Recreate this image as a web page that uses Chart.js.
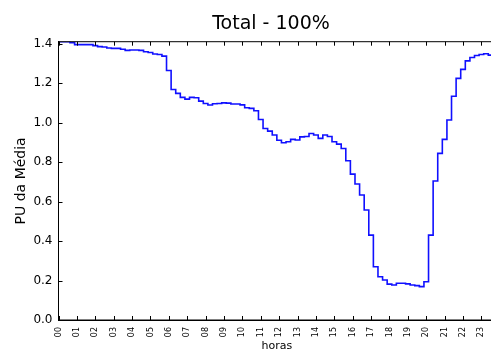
<!DOCTYPE html>
<html>
<head>
<meta charset="utf-8">
<script src="https://cdn.jsdelivr.net/npm/chart.js@4/dist/chart.umd.min.js"></script>
<style>
  html, body { margin: 0; padding: 0; background: #fff; overflow: hidden; width: 491px; height: 353px; }
  #wrap { position: relative; width: 498px; height: 353px; }
</style>
</head>
<body>
<div id="wrap"><canvas id="c" width="498" height="353"></canvas></div>
<script>
// Texts
const chartTitle = 'Total - 100%';
const xTitle = 'horas';
const yTitle = 'PU da Média';

// Hour tick labels along the x axis
const hourLabels = ['00','01','02','03','04','05','06','07','08','09','10','11',
                    '12','13','14','15','16','17','18','19','20','21','22','23'];

// Sample times: one every 15 minutes, in hours
const quarterHours = hourLabels.flatMap((h, i) => [i, i + 0.25, i + 0.5, i + 0.75]);

// Load, per unit of the mean, at each 15-minute sample
const puValues = [
  1.410, 1.410, 1.410, 1.405, 1.395, 1.395, 1.395, 1.395,   // 00h - 01h
  1.390, 1.385, 1.383, 1.378, 1.376, 1.376, 1.372, 1.366,   // 02h - 03h
  1.368, 1.368, 1.366, 1.359, 1.355, 1.348, 1.345, 1.337,   // 04h - 05h
  1.264, 1.168, 1.148, 1.128, 1.119, 1.128, 1.126, 1.109,   // 06h - 07h
  1.097, 1.089, 1.096, 1.097, 1.100, 1.099, 1.094, 1.094,   // 08h - 09h
  1.090, 1.075, 1.072, 1.060, 1.016, 0.970, 0.957, 0.937,   // 10h - 11h
  0.911, 0.898, 0.903, 0.915, 0.912, 0.928, 0.930, 0.945,   // 12h - 13h
  0.937, 0.920, 0.937, 0.930, 0.903, 0.891, 0.869, 0.807,   // 14h - 15h
  0.739, 0.689, 0.633, 0.557, 0.430, 0.270, 0.219, 0.203,   // 16h - 17h
  0.182, 0.177, 0.186, 0.186, 0.183, 0.177, 0.174, 0.169,   // 18h - 19h
  0.194, 0.430, 0.704, 0.844, 0.915, 1.013, 1.134, 1.224,   // 20h - 21h
  1.270, 1.313, 1.330, 1.340, 1.345, 1.349, 1.342, 1.328    // 22h - 23h
];

const points = quarterHours.map((t, i) => ({ x: t, y: puValues[i] }));

Chart.defaults.font.family = '"DejaVu Sans", sans-serif';
Chart.defaults.color = '#000';

// Closed frame, inward tick marks and the title
const framePlugin = {
  id: 'frame',
  afterDraw(chart) {
    const { ctx, chartArea: { left, right, top, bottom }, scales: { x, y } } = chart;
    ctx.save();
    ctx.strokeStyle = '#000';
    ctx.lineWidth = 1;
    ctx.strokeRect(left, top, right - left, bottom - top);
    ctx.beginPath();
    x.ticks.forEach(t => {
      const px = Math.round(x.getPixelForValue(t.value)) + 0.5;
      ctx.moveTo(px, bottom); ctx.lineTo(px, bottom - 4);
      ctx.moveTo(px, top); ctx.lineTo(px, top + 4);
    });
    y.ticks.forEach(t => {
      const py = Math.round(y.getPixelForValue(t.value)) + 0.5;
      ctx.moveTo(left, py); ctx.lineTo(left + 4, py);
      ctx.moveTo(right, py); ctx.lineTo(right - 4, py);
    });
    ctx.stroke();
    ctx.fillStyle = '#000';
    ctx.font = '19px "DejaVu Sans", sans-serif';
    ctx.textAlign = 'center';
    ctx.textBaseline = 'alphabetic';
    ctx.fillText(chartTitle, 271, 29);
    ctx.restore();
  }
};

new Chart(document.getElementById('c'), {
  type: 'line',
  data: {
    datasets: [{
      data: points,
      borderColor: '#1010ff',
      borderWidth: 1.6,
      pointRadius: 0,
      fill: false,
      stepped: 'middle'
    }]
  },
  options: {
    responsive: false,
    devicePixelRatio: 1,
    animation: false,
    layout: { padding: { top: 41.7, left: 0, right: 0, bottom: 0 } },
    plugins: { legend: { display: false }, tooltip: { enabled: false }, title: { display: false } },
    scales: {
      x: {
        type: 'linear',
        min: 0,
        max: 23.75,
        grid: { display: false, drawTicks: false },
        border: { display: true, color: '#000', width: 1 },
        ticks: {
          stepSize: 1,
          autoSkip: false,
          includeBounds: false,
          minRotation: 90,
          maxRotation: 90,
          padding: 7,
          font: { size: 8 },
          color: '#000',
          callback: v => hourLabels[v] ?? ''
        },
        title: { display: true, text: xTitle, font: { size: 11 }, color: '#000', padding: { top: 0, bottom: 0.4 } },
        afterFit: s => { s.height = 33; }
      },
      y: {
        min: 0,
        max: 1.41,
        grid: { display: false, drawTicks: false },
        border: { display: true, color: '#000', width: 1 },
        ticks: {
          stepSize: 0.2,
          includeBounds: false,
          padding: 6,
          font: { size: 12 },
          color: '#000',
          callback: v => v.toFixed(1)
        },
        title: { display: true, text: yTitle, font: { size: 14 }, color: '#000', padding: { top: 12.6, bottom: 0 } },
        afterFit: s => { s.width = 58.5; }
      }
    }
  },
  plugins: [framePlugin]
});
</script>
</body>
</html>
